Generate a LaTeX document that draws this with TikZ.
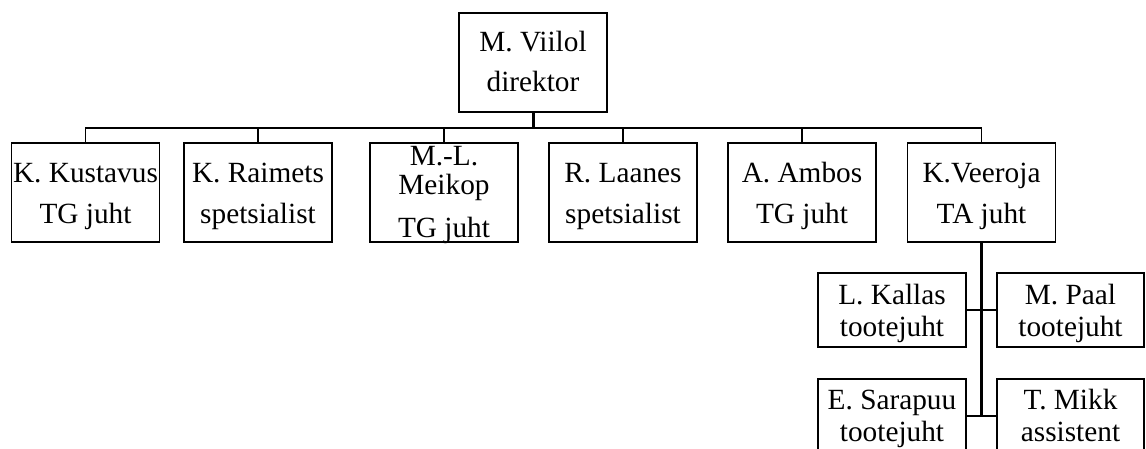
\documentclass[tikz,border=0pt]{standalone}
\usepackage{fontspec}
\setmainfont{Liberation Serif}
\begin{document}
\begin{tikzpicture}[x=1pt,y=-1pt,
  box/.style={draw, line width=1.8pt, minimum width=148pt, minimum height=99pt, inner sep=0pt},
  smallbox/.style={box, minimum height=74pt},
  txt/.style={anchor=base, inner sep=0pt, font=\fontsize{29.3}{35}\selectfont},
  conn/.style={line width=1.8pt},
  trunk/.style={line width=3pt}]
\useasboundingbox (0,0) rectangle (1146,449);
\fill[white] (0,0) rectangle (1146,449);
\clip (0,0) rectangle (1146,449);

% boxes
\node[box] (dir) at (533,62.5) {};
\node[box] (kus) at (85.5,192.5) {};
\node[box] (rai) at (258,192.5) {};
\node[box] (mei) at (444,192.5) {};
\node[box] (laa) at (623,192.5) {};
\node[box] (amb) at (802,192.5) {};
\node[box] (vee) at (981.5,192.5) {};
\node[smallbox] (kal) at (892,310) {};
\node[smallbox, minimum width=147pt] (paa) at (1070.5,310) {};
\node[smallbox] (sar) at (892,416) {};
\node[smallbox, minimum width=147pt] (mik) at (1070.5,416) {};

% texts
\node[txt] (dirA) at (533,52) {M. Viilol};
\node[txt] (dirB) at (533,92) {direktor};
\node[txt] (kusA) at (85.5,183) {K. Kustavus};
\node[txt] (kusB) at (85.5,224) {TG juht};
\node[txt] (raiA) at (258,183) {K. Raimets};
\node[txt] (raiB) at (258,224) {spetsialist};
\node[txt] (meiA) at (444,166) {M.-L.};
\node[txt] (meiB) at (444,195) {Meikop};
\node[txt] (meiC) at (444,237) {TG juht};
\node[txt] (laaA) at (623,183) {R. Laanes};
\node[txt] (laaB) at (623,224) {spetsialist};
\node[txt] (ambA) at (802,183) {A. Ambos};
\node[txt] (ambB) at (802,224) {TG juht};
\node[txt] (veeA) at (981.5,183) {K.Veeroja};
\node[txt] (veeB) at (981.5,224) {TA juht};
\node[txt] (kalA) at (892,304) {L. Kallas};
\node[txt] (kalB) at (892,336) {tootejuht};
\node[txt] (paaA) at (1070.5,304) {M. Paal};
\node[txt] (paaB) at (1070.5,336) {tootejuht};
\node[txt] (sarA) at (892,409) {E. Sarapuu};
\node[txt] (sarB) at (892,441) {tootejuht};
\node[txt] (mikA) at (1070.5,409) {T. Mikk};
\node[txt] (mikB) at (1070.5,441) {assistent};

% connectors
\coordinate (bus) at (533,128);
\draw[conn] (kus.north) -- (kus.north |- bus) -- (vee.north |- bus) -- (vee.north);
\draw[conn] (rai.north) -- (rai.north |- bus);
\draw[conn] (mei.north) -- (mei.north |- bus);
\draw[conn] (laa.north) -- (laa.north |- bus);
\draw[conn] (amb.north) -- (amb.north |- bus);
\draw[trunk] (dir.south) -- (bus);
\draw[trunk] (vee.south) -- (vee.south |- sar.east);
\draw[conn] (kal.east) -- (paa.west);
\draw[conn] (sar.east) -- (mik.west);
\end{tikzpicture}
\end{document}
